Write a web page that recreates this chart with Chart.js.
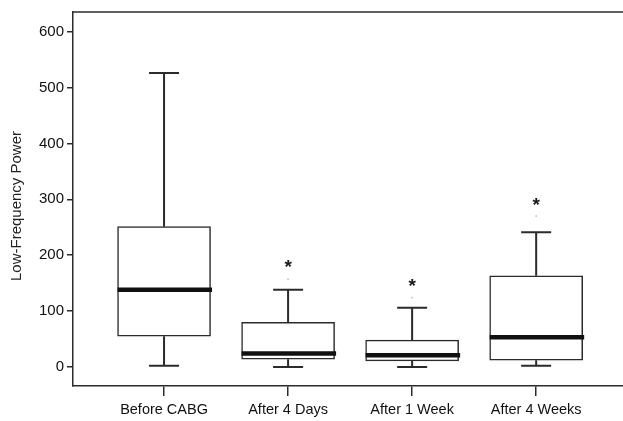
<!DOCTYPE html>
<html>
<head>
<meta charset="utf-8">
<script src="https://cdn.jsdelivr.net/npm/chart.js@4/dist/chart.umd.min.js"></script>
<style>
  body { margin: 0; background: #fff; }
  #wrap { width: 623px; height: 421px; position: relative; }
</style>
</head>
<body>
<div id="wrap"><canvas id="lfChart"></canvas></div>
<script>
var categories = ['Before CABG', 'After 4 Days', 'After 1 Week', 'After 4 Weeks'];
var whiskerLow = [2, 0, 0, 2];
var q1 = [55, 14, 11, 12];
var median = [138, 24, 21, 53];
var q3 = [251, 80, 48, 163];
var whiskerHigh = [526, 138, 106, 241];
var outliers = [null, 157, 124, 270];
var starAt = [null, 188, 153, 298];
var yTicks = [0, 100, 200, 300, 400, 500, 600];
var yTitle = 'Low-Frequency Power';

var ink = '#2b2b2b';
var fontFamily = '"Liberation Sans", Arial, sans-serif';

var boxPlugin = {
    id: 'boxParts',
    afterDatasetsDraw: function(chart) {
        var ctx = chart.ctx;
        var xs = chart.scales.x;
        var ys = chart.scales.y;
        var area = chart.chartArea;
        var capHalf = 15;
        var boxHalf = 46.5;

        ctx.save();
        // top frame line
        ctx.strokeStyle = ink;
        ctx.lineWidth = 1.5;
        ctx.beginPath();
        ctx.moveTo(area.left, area.top);
        ctx.lineTo(area.right, area.top);
        ctx.stroke();

        // y axis title, sits a little below the axis centre in the original
        ctx.save();
        ctx.translate(17, 206);
        ctx.rotate(-Math.PI / 2);
        ctx.fillStyle = '#222';
        ctx.font = '15px ' + fontFamily;
        ctx.textAlign = 'center';
        ctx.textBaseline = 'middle';
        ctx.fillText(yTitle, 0, 0);
        ctx.restore();

        for (var i = 0; i < categories.length; i++) {
            var cx = xs.getPixelForValue(i + 1);

            // whiskers
            ctx.strokeStyle = ink;
            ctx.lineWidth = 2;
            ctx.beginPath();
            ctx.moveTo(cx, ys.getPixelForValue(q3[i]));
            ctx.lineTo(cx, ys.getPixelForValue(whiskerHigh[i]));
            ctx.moveTo(cx, ys.getPixelForValue(q1[i]));
            ctx.lineTo(cx, ys.getPixelForValue(whiskerLow[i]));
            ctx.stroke();

            ctx.beginPath();
            var yh = ys.getPixelForValue(whiskerHigh[i]);
            var yl = ys.getPixelForValue(whiskerLow[i]);
            ctx.moveTo(cx - capHalf, yh);
            ctx.lineTo(cx + capHalf, yh);
            ctx.moveTo(cx - capHalf, yl);
            ctx.lineTo(cx + capHalf, yl);
            ctx.stroke();

            // median
            ctx.strokeStyle = '#111';
            ctx.lineWidth = 4.5;
            ctx.beginPath();
            var ym = ys.getPixelForValue(median[i]);
            ctx.moveTo(cx - boxHalf, ym);
            ctx.lineTo(cx + boxHalf + 1.5, ym);
            ctx.stroke();

            // faint outlier dot
            if (outliers[i] !== null) {
                ctx.fillStyle = '#b8b8b8';
                ctx.fillRect(cx - 0.75, ys.getPixelForValue(outliers[i]) - 0.75, 1.5, 1.5);
            }

            // significance star
            if (starAt[i] !== null) {
                ctx.fillStyle = '#1a1a1a';
                ctx.font = 'bold 19px ' + fontFamily;
                ctx.textAlign = 'center';
                ctx.textBaseline = 'alphabetic';
                ctx.fillText('*', cx, ys.getPixelForValue(starAt[i]) + 11);
            }
        }
        ctx.restore();
    }
};

var ctx = document.getElementById('lfChart').getContext('2d');
var lfChart = new Chart(ctx, {
    type: 'bar',
    data: {
        datasets: [{
            data: categories.map(function(c, i) {
                return { x: i + 1, y: [q1[i], q3[i]] };
            }),
            backgroundColor: '#ffffff',
            borderColor: ink,
            borderWidth: 1.5,
            borderSkipped: false,
            barThickness: 93
        }]
    },
    options: {
        responsive: true,
        maintainAspectRatio: false,
        animation: false,
        layout: { padding: { top: 8, left: 0, right: 0, bottom: 0 } },
        plugins: {
            legend: { display: false },
            tooltip: { enabled: false }
        },
        scales: {
            x: {
                type: 'linear',
                offset: false,
                bounds: 'ticks',
                min: 0.266,
                max: 4.70,
                afterBuildTicks: function(scale) {
                    scale.ticks = categories.map(function(c, i) { return { value: i + 1 }; });
                },
                afterFit: function(scale) { scale.height = 35; },
                grid: {
                    offset: false,
                    drawOnChartArea: false,
                    drawTicks: true,
                    tickLength: 10,
                    color: ink,
                    lineWidth: 1.5
                },
                border: { display: true, color: ink, width: 1.5 },
                ticks: {
                    padding: 5,
                    color: '#111',
                    font: { family: fontFamily, size: 14.5 },
                    maxRotation: 0,
                    autoSkip: false,
                    callback: function(v) { return categories[v - 1]; }
                }
            },
            y: {
                min: -34,
                max: 635,
                afterBuildTicks: function(scale) {
                    scale.ticks = yTicks.map(function(v) { return { value: v }; });
                },
                afterFit: function(scale) { scale.width = 73; },
                grid: {
                    drawOnChartArea: false,
                    drawTicks: true,
                    tickLength: 6,
                    color: ink,
                    lineWidth: 1.5
                },
                border: { display: true, color: ink, width: 1.5 },
                ticks: {
                    padding: 3,
                    color: '#111',
                    font: { family: fontFamily, size: 15 }
                }
            }
        }
    },
    plugins: [boxPlugin]
});
</script>
</body>
</html>
